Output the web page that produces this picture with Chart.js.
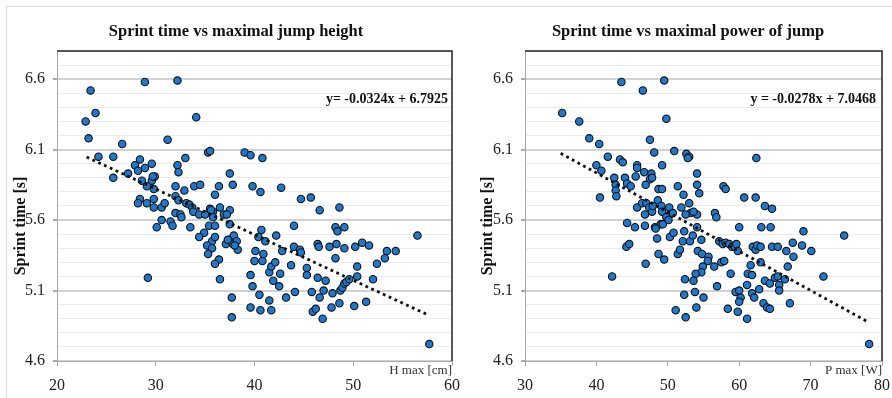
<!DOCTYPE html>
<html lang="en">
<head>
    <meta charset="UTF-8">
    <title>Sprint time vs jump height / power</title>
    <script src="https://cdn.jsdelivr.net/npm/chart.js"></script>
    <style>
        body { margin: 0; width: 892px; height: 398px; overflow: hidden; position: relative; background: #fff; }
        canvas { position: absolute; top: 0; }
        #frame { position: absolute; left: 6px; top: 6px; width: 900px; height: 400px;
                 border-left: 1px solid #dddddd; border-top: 1px solid #dddddd; }
    </style>
</head>
<body>
    <div id="frame"></div>
    <canvas id="heightChart" width="470" height="398" style="left:0"></canvas>
    <canvas id="powerChart" width="430" height="398" style="left:470px"></canvas>

    <script>
        // H max [cm] vs sprint time [s]
        const heightX = [23.4, 28.9, 32.2, 23.9, 22.9, 34.1, 23.2, 31.2, 26.6, 35.3, 35.5, 39.0, 39.6, 40.8, 24.2, 25.7,
            33.0, 28.4, 27.9, 28.9, 28.2, 29.6, 32.2, 32.3, 27.2, 25.7, 28.6, 29.6, 29.9, 37.5, 29.1, 29.8, 32.0, 32.9,
            33.9, 34.5, 36.0, 36.4, 37.8, 39.8, 40.6, 42.7, 44.7, 45.7, 28.4, 29.8, 32.0, 28.2, 29.1, 29.8, 30.6, 30.9,
            33.1, 33.4, 33.7, 35.5, 35.8, 36.5, 36.9, 37.5, 37.2, 30.6, 30.1, 31.5, 31.7, 32.0, 32.5, 32.6, 33.5, 33.8,
            34.4, 35.0, 35.4, 36.0, 34.9, 34.4, 35.7, 36.0, 35.2, 35.7, 35.3, 36.4, 36.0, 36.5, 37.1, 37.5, 37.8, 37.9,
            38.3, 38.2, 37.5, 29.2, 37.7, 37.7, 39.6, 39.8, 39.6, 40.1, 40.0, 40.4, 40.7, 40.8, 40.9, 40.5, 40.6, 41.1,
            42.2, 41.5, 41.7, 41.5, 41.7, 41.9, 42.1, 42.5, 42.6, 42.8, 43.2, 43.7, 44.0, 44.0, 44.1, 44.6, 44.7, 45.3,
            45.3, 45.8, 45.9, 46.2, 46.4, 46.4, 46.5, 46.6, 46.6, 46.9, 47.0, 47.2, 47.6, 47.8, 47.9, 48.2, 48.2, 48.3,
            48.4, 48.6, 48.6, 48.7, 48.9, 49.1, 49.3, 49.6, 49.1, 49.1, 50.1, 50.2, 50.4, 50.4, 50.9, 51.3, 51.6, 52.0,
            52.4, 53.2, 53.4, 54.3, 56.5, 57.7, 35.6, 35.8, 37.3, 38.0, 32.3, 29.7];
        const heightTime = [6.52, 6.58, 6.59, 6.36, 6.30, 6.33, 6.18, 6.17, 6.14, 6.08, 6.09, 6.08, 6.06, 6.04, 6.05, 6.05,
            6.04, 6.03, 5.99, 5.97, 5.95, 6.00, 5.99, 5.94, 5.93, 5.90, 5.88, 5.88, 5.91, 5.93, 5.84, 5.82, 5.84, 5.81,
            5.84, 5.85, 5.78, 5.84, 5.85, 5.84, 5.80, 5.83, 5.75, 5.76, 5.75, 5.75, 5.77, 5.72, 5.72, 5.69, 5.69, 5.72,
            5.72, 5.71, 5.69, 5.68, 5.66, 5.69, 5.64, 5.67, 5.64, 5.60, 5.55, 5.59, 5.56, 5.65, 5.64, 5.62, 5.55, 5.66,
            5.64, 5.64, 5.56, 5.56, 5.51, 5.48, 5.45, 5.48, 5.42, 5.40, 5.36, 5.32, 5.29, 5.18, 5.43, 5.46, 5.43, 5.49,
            5.39, 5.45, 5.57, 5.19, 5.05, 4.91, 5.21, 5.13, 4.98, 5.38, 5.31, 5.48, 5.53, 5.31, 5.36, 5.07, 4.96, 5.45,
            5.49, 5.03, 4.96, 5.23, 5.27, 5.17, 5.30, 5.13, 5.22, 5.38, 5.05, 5.28, 5.41, 5.56, 5.09, 5.39, 5.37, 5.26,
            5.21, 5.09, 4.95, 4.97, 5.19, 5.43, 5.41, 5.67, 5.05, 4.90, 5.10, 5.17, 5.41, 4.98, 5.08, 5.33, 5.55, 5.43,
            5.52, 5.69, 5.01, 5.10, 5.12, 5.15, 5.16, 5.18, 5.55, 5.40, 4.99, 5.41, 5.27, 5.20, 5.44, 5.02, 5.42, 5.18,
            5.29, 5.33, 5.38, 5.38, 5.49, 4.72, 5.67, 5.62, 5.46, 5.42, 5.74, 5.91];

        // P max [W] vs sprint time [s]
        const powerX = [43.5, 49.5, 46.5, 49.8, 35.2, 37.6, 39.0, 40.4, 47.5, 41.6, 48.1, 50.9, 52.6, 53.0, 52.8, 62.4,
            40.0, 40.7, 43.3, 43.7, 45.7, 45.7, 46.7, 47.7, 47.5, 47.8, 49.2, 45.5, 42.5, 44.0, 44.3, 44.8, 42.7, 42.7,
            46.9, 48.7, 49.2, 51.4, 52.2, 54.1, 54.1, 54.4, 57.8, 58.1, 60.7, 62.3, 40.5, 42.8, 45.7, 46.4, 47.0, 47.4,
            47.8, 48.6, 49.1, 50.2, 51.9, 53.0, 63.6, 64.6, 47.9, 46.8, 46.8, 45.4, 44.3, 44.2, 44.6, 42.2, 46.9, 48.2,
            48.5, 48.7, 49.5, 49.0, 49.3, 49.2, 50.3, 49.8, 50.1, 50.7, 50.3, 50.8, 51.4, 51.7, 53.2, 52.5, 54.1, 52.3,
            52.1, 53.1, 53.5, 54.1, 54.2, 54.8, 54.7, 55.7, 55.6, 54.9, 54.7, 53.9, 53.6, 52.4, 52.3, 53.8, 55.0, 54.0,
            51.1, 52.5, 56.6, 56.8, 56.9, 56.5, 57.5, 57.9, 57.2, 57.7, 58.1, 58.6, 59.0, 59.4, 59.6, 59.8, 58.8, 58.4,
            59.5, 60.0, 60.2, 60.0, 59.8, 60.0, 61.1, 61.1, 61.2, 61.6, 61.8, 61.8, 62.1, 61.9, 62.3, 62.5, 63.0, 63.0,
            62.8, 63.1, 63.4, 63.9, 64.3, 63.6, 64.3, 65.0, 65.4, 64.4, 64.6, 65.4, 65.6, 65.6, 66.4, 66.6, 66.8, 67.1,
            67.5, 67.6, 68.8, 69.0, 70.1, 71.8, 74.7, 78.2, 53.6, 48.3];
        const powerTime = [6.58, 6.59, 6.52, 6.32, 6.36, 6.30, 6.18, 6.14, 6.17, 6.05, 6.08, 6.09, 6.07, 6.05, 6.04, 6.04,
            5.99, 5.95, 6.03, 6.01, 5.99, 5.97, 5.94, 5.93, 5.89, 5.90, 5.99, 5.91, 5.90, 5.90, 5.86, 5.84, 5.85, 5.81,
            5.85, 5.82, 5.82, 5.84, 5.78, 5.93, 5.85, 5.79, 5.84, 5.82, 5.76, 5.76, 5.76, 5.77, 5.69, 5.72, 5.72, 5.69,
            5.66, 5.74, 5.70, 5.69, 5.69, 5.72, 5.70, 5.68, 5.70, 5.64, 5.56, 5.55, 5.58, 5.41, 5.43, 5.20, 5.29, 5.55,
            5.47, 5.36, 5.32, 5.57, 5.57, 5.66, 5.64, 5.62, 5.60, 5.65, 5.48, 5.51, 5.36, 5.39, 5.65, 5.64, 5.64, 5.52,
            5.45, 5.45, 5.49, 5.55, 5.38, 5.36, 5.46, 5.34, 5.31, 5.27, 5.23, 5.22, 5.17, 5.18, 5.07, 5.09, 5.05, 4.98,
            4.96, 4.91, 5.65, 5.62, 5.13, 5.27, 5.30, 5.31, 5.45, 5.43, 5.44, 5.43, 5.41, 5.41, 5.43, 5.38, 5.22, 4.97,
            5.09, 5.10, 5.05, 5.02, 4.95, 5.55, 5.14, 4.90, 5.22, 5.28, 5.21, 5.08, 5.05, 5.41, 5.39, 5.42, 5.41, 5.30,
            5.11, 5.55, 5.01, 4.98, 4.97, 5.17, 5.15, 5.19, 5.20, 5.55, 5.41, 5.41, 5.14, 5.10, 5.18, 5.38, 5.27, 5.01,
            5.44, 5.34, 5.42, 5.52, 5.38, 5.20, 5.49, 4.72, 5.66, 5.54];

        const yTickLabels = ['4.6', '5.1', '5.6', '6.1', '6.6'];
        const heightTicks = [20, 30, 40, 50, 60];
        const powerTicks = [30, 40, 50, 60, 70, 80];

        // trend lines as printed on the chart
        const heightTrend = { slope: -0.0324, intercept: 6.7925, from: 23, to: 57.5 };
        const powerTrend = { slope: -0.0278, intercept: 7.0468, from: 35, to: 78 };

        const serif = "'Liberation Serif', 'Times New Roman', serif";
        const isMajor = v => yTickLabels.includes(Number(v).toFixed(1));

        // titles, axis titles, equation and the dark top/right edges of the plot box
        const decor = {
            id: 'decor',
            afterDraw(chart, args, o) {
                const ctx = chart.ctx, a = chart.chartArea;
                ctx.save();
                ctx.strokeStyle = '#222';
                ctx.lineWidth = 1.5;
                ctx.beginPath();
                ctx.moveTo(a.left, a.top);
                ctx.lineTo(a.right, a.top);
                ctx.lineTo(a.right, a.bottom);
                ctx.stroke();

                ctx.fillStyle = '#111';
                ctx.textBaseline = 'alphabetic';
                ctx.font = 'bold 16.5px ' + serif;
                ctx.textAlign = 'center';
                ctx.fillText(o.title, o.titleX, 36);

                ctx.font = 'bold 14px ' + serif;
                ctx.textAlign = 'right';
                ctx.fillText(o.equation, o.eqX, 103);

                ctx.font = '13px ' + serif;
                ctx.fillStyle = '#333';
                ctx.fillText(o.xTitle, a.right, 374);

                ctx.translate(o.yTitleX, 226);
                ctx.rotate(-Math.PI / 2);
                ctx.textAlign = 'center';
                ctx.fillStyle = '#111';
                ctx.font = 'bold 16px ' + serif;
                ctx.fillText('Sprint time [s]', 0, 5);
                ctx.restore();
            }
        };

        function makeChart(id, xs, ys, trend, xTicks, yWidth, decorOpts) {
            const points = xs.map((x, i) => ({ x: x, y: ys[i] }));
            const trendLine = [trend.from, trend.to].map(x => ({ x: x, y: trend.slope * x + trend.intercept }));
            return new Chart(document.getElementById(id), {
                type: 'scatter',
                data: {
                    datasets: [{
                        type: 'line',
                        data: trendLine,
                        borderColor: '#111',
                        borderWidth: 2.8,
                        borderDash: [2.8, 3.6],
                        pointRadius: 0,
                        fill: false
                    }, {
                        data: points,
                        backgroundColor: '#1f78cc',
                        borderColor: '#111',
                        borderWidth: 1.1,
                        pointRadius: 3.7
                    }]
                },
                options: {
                    responsive: false,
                    devicePixelRatio: 1,
                    animation: false,
                    events: [],
                    layout: { autoPadding: false, padding: { top: 51, right: 12, left: 0, bottom: 0 } },
                    plugins: { legend: { display: false }, tooltip: { enabled: false }, decor: decorOpts },
                    scales: {
                        x: {
                            type: 'linear',
                            min: xTicks[0],
                            max: xTicks[xTicks.length - 1],
                            afterFit: s => { s.height = 37; },
                            afterBuildTicks: s => { s.ticks = xTicks.map(v => ({ value: v })); },
                            grid: { drawOnChartArea: false, tickLength: 5, tickColor: '#aaa' },
                            border: { color: '#aaa', width: 1 },
                            ticks: { padding: 10, color: '#222', font: { family: serif, size: 16 } }
                        },
                        y: {
                            min: 4.6,
                            max: 6.8,
                            afterFit: s => { s.width = yWidth; },
                            grid: {
                                color: c => isMajor(c.tick.value) ? '#d2d2d2' : '#ececec',
                                lineWidth: c => isMajor(c.tick.value) ? 2 : 1,
                                tickColor: c => isMajor(c.tick.value) ? '#aaa' : 'rgba(0,0,0,0)',
                                tickLength: 4
                            },
                            border: { color: '#aaa', width: 1 },
                            ticks: {
                                stepSize: 0.1,
                                autoSkip: false,
                                padding: 8,
                                color: '#222',
                                font: { family: serif, size: 16 },
                                callback: v => isMajor(v) ? Number(v).toFixed(1) : ''
                            }
                        }
                    }
                },
                plugins: [decor]
            });
        }

        makeChart('heightChart', heightX, heightTime, heightTrend, heightTicks, 57, {
            title: 'Sprint time vs maximal jump height', titleX: 236,
            equation: 'y= -0.0324x + 6.7925', eqX: 448,
            xTitle: 'H max [cm]', yTitleX: 20
        });
        makeChart('powerChart', powerX, powerTime, powerTrend, powerTicks, 55, {
            title: 'Sprint time vs maximal power of jump', titleX: 218,
            equation: 'y = -0.0278x + 7.0468', eqX: 406,
            xTitle: 'P max [W]', yTitleX: 17
        });
    </script>
</body>
</html>
